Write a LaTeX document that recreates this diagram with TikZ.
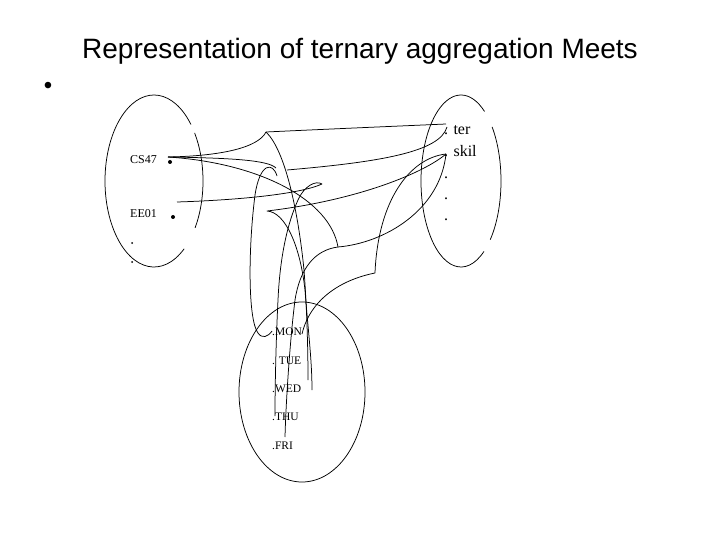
\documentclass[tikz,border=0pt]{standalone}
\usepackage{fontspec}
\setmainfont{Liberation Serif}
\newfontfamily\titlefont{Liberation Sans}
\begin{document}
\begin{tikzpicture}[x=1pt,y=-1pt,
  conn/.style={line width=0.75pt, line join=round},
  ring/.style={line width=0.75pt},
  lbl/.style={anchor=base west, inner sep=0pt, font=\fontsize{12}{14}\selectfont},
  daylbl/.style={anchor=base west, inner sep=0pt, font=\fontsize{11.5}{13}\selectfont},
  attrlbl/.style={anchor=base west, inner sep=0pt, font=\fontsize{16}{18}\selectfont},
  bigdot/.style={circle, fill, inner sep=0pt, minimum size=4pt},
  smalldot/.style={circle, fill, inner sep=0pt, minimum size=2pt}]
\useasboundingbox (0,0) rectangle (720,540);
\fill[white] (0,0) rectangle (720,540);

% title and bullet
\node[anchor=base, inner sep=0pt, font=\titlefont\fontsize{28}{32}\selectfont] (title) at (360,58.5) {Representation of ternary aggregation Meets};
\node[anchor=base, inner sep=0pt, font=\titlefont\fontsize{24}{28}\selectfont] (bullet) at (48,94) {\textbullet};

% ellipse centres
\coordinate (L) at (154,181);
\coordinate (R) at (461,181);
\coordinate (B) at (302,392);

% left ellipse (with gaps)
\draw[ring] (L) ++(52:49 and 86) arc[start angle=52, end angle=319, x radius=49, y radius=86];
\draw[ring] (L) ++(-34:49 and 86) arc[start angle=-34, end angle=33, x radius=49, y radius=86];
% right ellipse (with gaps)
\draw[ring] (R) ++(55:40 and 86) arc[start angle=55, end angle=306, x radius=40, y radius=86];
\draw[ring] (R) ++(-39:40 and 86) arc[start angle=-39, end angle=43, x radius=40, y radius=86];
% bottom ellipse
\draw[ring] (B) ellipse[x radius=63, y radius=90];

% left labels
\node[lbl] (cs47) at (130,164) {CS47};
\node[bigdot] (csdot) at (170,162) {};
\node[lbl] (ee01) at (130,218) {EE01};
\node[bigdot] (eedot) at (173,217) {};
\node[smalldot] (ld1) at (132,243) {};
\node[smalldot] (ld2) at (132,262) {};

% right labels
\node[attrlbl] (ter) at (444,135) {. ter};
\node[attrlbl] (skil) at (444,157) {. skil};
\node[attrlbl] (rd1) at (444,179) {.};
\node[attrlbl] (rd2) at (444,200) {.};
\node[attrlbl] (rd3) at (444,221) {.};

% bottom labels
\node[daylbl] (mon) at (272,335) {.MON};
\node[daylbl] (tue) at (272,364) {. TUE};
\node[daylbl] (wed) at (272,392) {.WED};
\node[daylbl] (thu) at (272,420) {.THU};
\node[daylbl] (fri) at (272,449) {.FRI};

% connector points
\coordinate (cs) at (168,157);
\coordinate (ee) at (177,202);
\coordinate (cusp) at (266,132);
\coordinate (terend) at (446,124);
\coordinate (terend2) at (447,127);
\coordinate (skilend) at (446,154);
\coordinate (corner) at (338,247);
\coordinate (cusp2) at (375,273);
\coordinate (lens) at (322,184);
\coordinate (skl) at (267,211);
\coordinate (terl) at (287,170);
\coordinate (hookend) at (276,168);
\coordinate (archst) at (277,176);
\coordinate (monend) at (272,331);
\coordinate (monr) at (302,334);
\coordinate (wedend) at (312,390);
\coordinate (wedend2) at (308,380);
\coordinate (thuend) at (275,416);
\coordinate (friend) at (285,437);

% connectors
\draw[conn] (cs) .. controls (220,156) and (258,148) .. (cusp);
\draw[conn] (cusp) .. controls (330,129) and (400,126) .. (terend);
\draw[conn] (cusp) .. controls (285,150) and (298,210) .. (304,270) .. controls (307,310) and (308,350) .. (wedend2);
\draw[conn] (cs) .. controls (230,158) and (268,160) .. (hookend);
\draw[conn] (archst) .. controls (273,162) and (260,162) .. (255,195) .. controls (248,250) and (248,320) .. (258,333) .. controls (262,339) and (268,337) .. (monend);
\draw[conn] (cs) .. controls (260,163) and (330,200) .. (corner);
\draw[conn] (corner) .. controls (385,243) and (440,210) .. (skilend);
\draw[conn] (corner) .. controls (315,250) and (300,268) .. (295,300) .. controls (290,340) and (286,400) .. (friend);
\draw[conn] (ee) .. controls (240,200) and (300,194) .. (lens) .. controls (316,180) and (304,186) .. (298,200) .. controls (288,222) and (280,255) .. (278,300) .. controls (276,340) and (275,385) .. (thuend);
\draw[conn] (terl) .. controls (380,162) and (440,152) .. (terend2);
\draw[conn] (skilend) .. controls (425,172) and (360,200) .. (skl) .. controls (285,212) and (300,245) .. (305,290) .. controls (308,330) and (312,360) .. (wedend);
\draw[conn] (skilend) .. controls (410,158) and (378,200) .. (cusp2) .. controls (340,280) and (310,300) .. (monr);
\end{tikzpicture}
\end{document}
